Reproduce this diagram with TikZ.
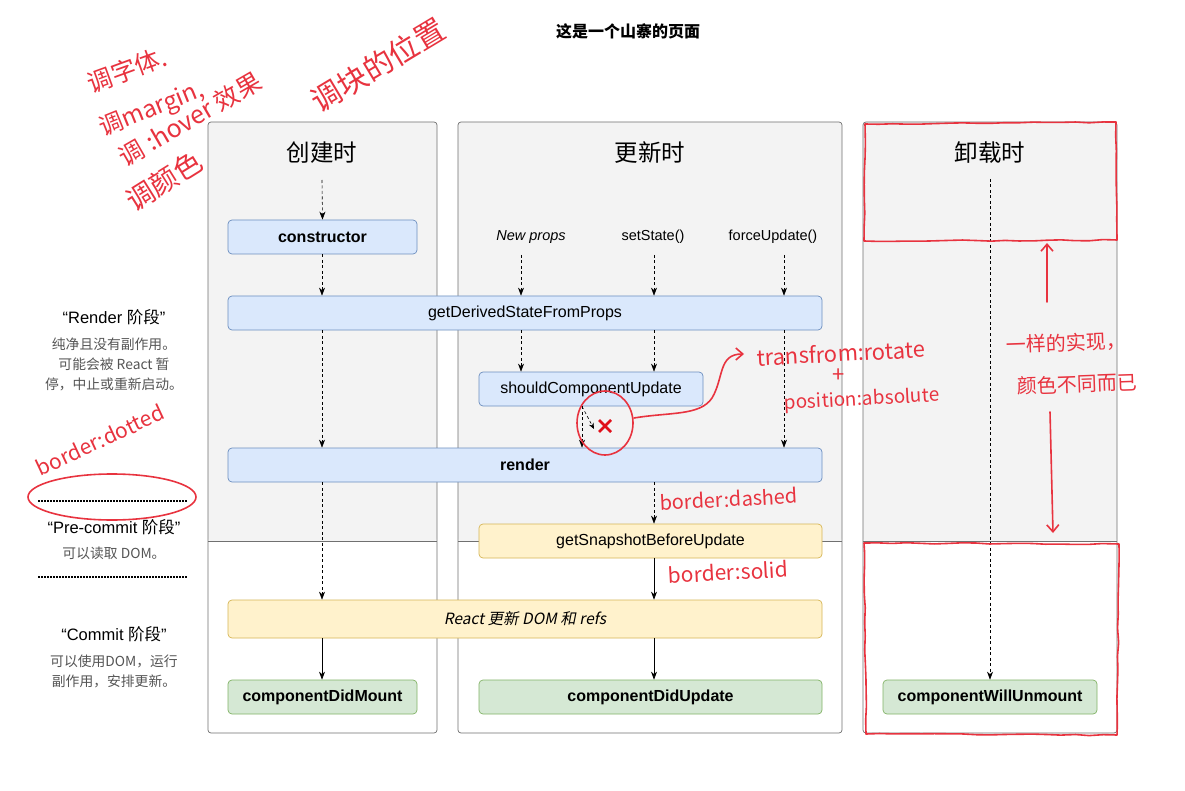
\documentclass[tikz,border=0pt]{standalone}
\usepackage{fontspec}
\setmainfont{Liberation Sans}
\newfontfamily\cjk{Noto Sans CJK SC}
\newfontfamily\cjkit{Noto Sans CJK SC}[FakeSlant=0.2]
\usetikzlibrary{arrows.meta,decorations.pathmorphing}
\definecolor{colfill}{HTML}{F3F3F3}
\definecolor{colline}{HTML}{707070}
\definecolor{bfill}{HTML}{DAE8FC}
\definecolor{bdraw}{HTML}{6C8EBF}
\definecolor{yfill}{HTML}{FFF2CC}
\definecolor{ydraw}{HTML}{D6B656}
\definecolor{gfill}{HTML}{D5E8D4}
\definecolor{gdraw}{HTML}{82B366}
\definecolor{hred}{HTML}{E8333F}
\definecolor{xred}{HTML}{E0101A}
\definecolor{graytxt}{HTML}{555555}
\tikzset{
  box/.style={draw, rounded corners=4pt, line width=0.7pt, minimum height=34pt,
    inner sep=0pt, font=\fontsize{16}{18}\selectfont},
  boldtxt/.style={font=\bfseries\fontsize{16}{18}\selectfont},
  bluebox/.style={box, fill=bfill, draw=bdraw},
  yelbox/.style={box, fill=yfill, draw=ydraw},
  grnbox/.style={box, fill=gfill, draw=gdraw},
  colbox/.style={draw=colline, line width=0.7pt, rounded corners=3pt},
  header/.style={font=\cjk\fontsize{23.5}{26}\selectfont},
  trig/.style={font=\fontsize{14.5}{16}\selectfont},
  phase/.style={font=\fontsize{16.5}{19}\selectfont},
  phasetxt/.style={text=graytxt, font=\cjk\fontsize{13.8}{20}\selectfont, align=center},
  tip/.style={-{Stealth[length=8pt,width=6pt,inset=2.5pt]}},
  dasharrow/.style={tip, line width=0.6pt, dash pattern=on 3pt off 2.5pt},
  solidarrow/.style={tip, line width=0.7pt},
  dotline/.style={line width=1.6pt, dash pattern=on 1.5pt off 1.5pt},
  hand/.style={text=hred, inner sep=0pt},
  redline/.style={draw=hred, line width=1.6pt, line cap=round, line join=round},
  redarrow/.style={redline, -{Straight Barb[length=7pt,width=12pt]}},
}
\begin{document}
\begin{tikzpicture}[x=1pt,y=-1pt]
\useasboundingbox (0,0) rectangle (1185,791);
\fill[white] (0,0) rectangle (1185,791);

% title
\node[font=\cjk\bfseries\fontsize{16}{18}\selectfont] (title) at (628,31) {这是一个山寨的页面};

% columns
\fill[colfill, rounded corners=3pt] (208,122) rectangle (437,541);
\draw[colline, line width=0.7pt] (208,541) -- (437,541);
\draw[colbox] (208,122) rectangle (437,733);
\fill[colfill, rounded corners=3pt] (458,122) rectangle (842,541);
\draw[colline, line width=0.7pt] (458,541) -- (842,541);
\draw[colbox] (458,122) rectangle (842,733);
\fill[colfill, rounded corners=3pt] (863,122) rectangle (1117,541);
\draw[colline, line width=0.7pt] (863,541) -- (1117,541);
\draw[colbox] (863,122) rectangle (1117,733);

% headers
\node[header] (h1) at (322,153) {创建时};
\node[header] (h2) at (650,153) {更新时};
\node[header] (h3) at (990,153) {卸载时};

% nodes
\node[bluebox, minimum width=189pt, boldtxt] (ctor) at (322.5,237) {constructor};
\node[bluebox, minimum width=594pt] (gdsfp) at (525,313) {getDerivedStateFromProps};
\node[bluebox, minimum width=224pt] (scu) at (591,389) {shouldComponentUpdate};
\node[bluebox, minimum width=594pt, boldtxt] (render) at (525,465) {render};
\node[yelbox, minimum width=343pt] (gsbu) at (650.5,541) {getSnapshotBeforeUpdate};
\node[yelbox, minimum width=594pt, minimum height=38pt, font=\cjkit\fontsize{15.5}{18}\selectfont] (react) at (525,619) {React 更新 DOM 和 refs};
\node[grnbox, minimum width=189pt, boldtxt] (cdm) at (322.5,697) {componentDidMount};
\node[grnbox, minimum width=343pt, boldtxt] (cdu) at (650.5,697) {componentDidUpdate};
\node[grnbox, minimum width=214pt, boldtxt] (cwu) at (990,697) {componentWillUnmount};

% triggers
\node[trig, font=\itshape\fontsize{14.5}{16}\selectfont] (np) at (531,237) {New props};
\node[trig] (ss) at (653,237) {setState()};
\node[trig] (fu) at (773,237) {forceUpdate()};
\coordinate (np0) at (521,255);
\coordinate (ss0) at (654,255);
\coordinate (fu0) at (784,255);
\coordinate (c1s) at (322,180);
\coordinate (c3s) at (990,179);
\coordinate (xs) at (582,406);
\coordinate (xtip) at (594,429);

% connectors
\draw[dasharrow] (c1s) -- (ctor.north);
\draw[dasharrow] (ctor.south -| c1s) -- (gdsfp.north -| c1s);
\draw[dasharrow] (np0) -- (gdsfp.north -| np0);
\draw[dasharrow] (ss0) -- (gdsfp.north -| ss0);
\draw[dasharrow] (fu0) -- (gdsfp.north -| fu0);
\draw[dasharrow] (gdsfp.south -| c1s) -- (render.north -| c1s);
\draw[dasharrow] (gdsfp.south -| np0) -- (scu.north -| np0);
\draw[dasharrow] (gdsfp.south -| ss0) -- (scu.north -| ss0);
\draw[dasharrow] (gdsfp.south -| fu0) -- (render.north -| fu0);
\draw[dasharrow] (scu.south -| xs) -- (render.north -| xs);
\draw[dasharrow, -{Stealth[length=6pt,width=5pt,inset=2pt]}] (scu.south -| xs) -- (xtip);
\draw[dasharrow] (render.south -| ss0) -- (gsbu.north -| ss0);
\draw[dasharrow] (render.south -| c1s) -- (react.north -| c1s);
\draw[solidarrow] (gsbu.south -| ss0) -- (react.north -| ss0);
\draw[solidarrow] (react.south -| c1s) -- (cdm.north -| c1s);
\draw[solidarrow] (react.south -| ss0) -- (cdu.north -| ss0);
\draw[dasharrow] (c3s) -- (cwu.north -| c3s);

% red X
\draw[xred, line width=2.8pt] (599,420) -- (611,432) (611,420) -- (599,432);

% phase texts
\node[phase] (p1) at (114,317) {“Render {\cjk 阶段}”};
\node[phasetxt] (p1t) at (114,364) {纯净且没有副作用。\\ 可能会被 React 暂\\停，中止或重新启动。};
\coordinate (d1a) at (38,501);
\coordinate (d1b) at (187,501);
\draw[dotline] (d1a) -- (d1b);
\node[phase] (p2) at (114,527) {“Pre-commit {\cjk 阶段}”};
\node[phasetxt] (p2t) at (114,553) {可以读取 DOM。};
\coordinate (d2a) at (38,577);
\coordinate (d2b) at (187,577);
\draw[dotline] (d2a) -- (d2b);
\node[phase] (p3) at (114,634) {“Commit {\cjk 阶段}”};
\node[phasetxt] (p3t) at (114,671) {可以使用DOM，运行\\副作用，安排更新。};

% ---- red annotations ----
\node[hand, font=\cjk\fontsize{25}{28}\selectfont, rotate=20] (a1) at (127,70) {调字体.};
\node[hand, font=\cjk\fontsize{24}{28}\selectfont, rotate=22] (a2) at (152,110) {调margin,};
\node[hand, font=\cjk\fontsize{25}{28}\selectfont, rotate=30] (a3) at (190,119) {调 :hover 效果};
\node[hand, font=\cjk\fontsize{28}{30}\selectfont, rotate=32] (a4) at (164,181) {调颜色};
\node[hand, font=\cjk\fontsize{30}{32}\selectfont, rotate=31] (a5) at (378,65) {调块的位置};
\node[hand, font=\cjk\fontsize{21}{24}\selectfont, rotate=25] (a6) at (100,440) {border:dotted};
\draw[redline] (112,497) ellipse [x radius=84pt, y radius=23pt];
\draw[redline] (605,423) ellipse [x radius=28pt, y radius=32pt];
\draw[redarrow] (634,418) .. controls (670,412) and (700,416) .. (712,398)
  .. controls (724,378) and (718,354) .. (744,354);
\node[hand, font=\cjk\fontsize{22}{24}\selectfont, rotate=3] (a7) at (841,353) {transfrom:rotate};
\node[hand, font=\cjk\fontsize{22}{24}\selectfont] (a8) at (839,376) {+};
\node[hand, font=\cjk\fontsize{19}{22}\selectfont, rotate=3] (a9) at (862,400) {position:absolute};
\node[hand, font=\cjk\fontsize{20}{22}\selectfont, rotate=3] (a10) at (729,499) {border:dashed};
\node[hand, font=\cjk\fontsize{21}{22}\selectfont, rotate=3] (a11) at (728,572) {border:solid};
\node[hand, font=\cjk\fontsize{20}{22}\selectfont, rotate=2] (a12) at (1066,343) {一样的实现，};
\node[hand, font=\cjk\fontsize{20}{22}\selectfont, rotate=2] (a13) at (1077,384) {颜色不同而已};
\coordinate (u1) at (1047,302);
\coordinate (u2) at (1047,243);
\coordinate (w1) at (1050,412);
\coordinate (w2) at (1053,533);
\draw[redarrow] (u1) -- (u2);
\draw[redarrow] (w1) -- (w2);
\draw[redline, decorate, decoration={random steps, segment length=14pt, amplitude=0.7pt}]
  (865,124) -- (1116,122) -- (1117,240) -- (864,241) -- cycle;
\draw[redline, decorate, decoration={random steps, segment length=14pt, amplitude=0.7pt}]
  (864,543) -- (1119,544) -- (1117,735) -- (866,734) -- cycle;
\end{tikzpicture}
\end{document}
